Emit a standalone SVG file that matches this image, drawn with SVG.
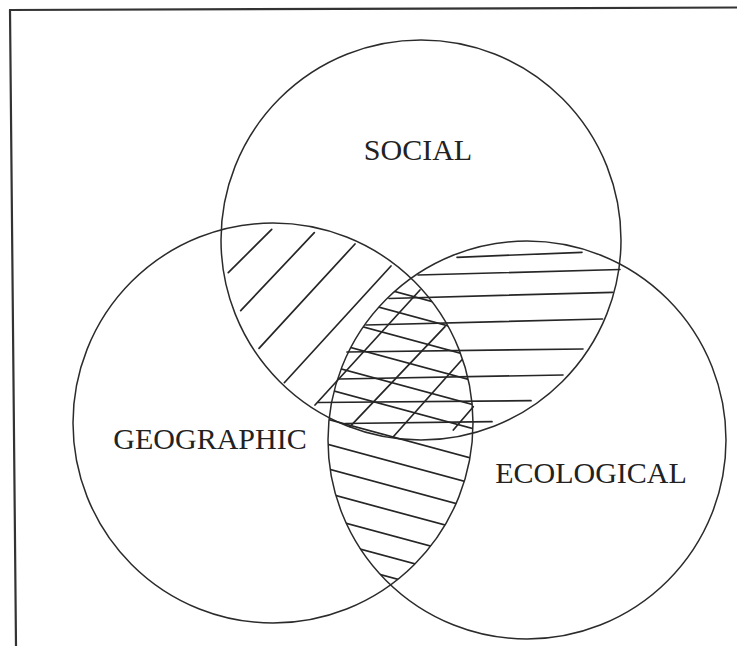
<svg xmlns="http://www.w3.org/2000/svg" width="739" height="646" viewBox="0 0 739 646">
  <style>
    .ring { fill: none; stroke: #2b2b2b; stroke-width: 1.5; }
    .hatch { fill: none; stroke: #262626; stroke-width: 1.7; stroke-linecap: round; }
    .frame { fill: none; stroke: #333; stroke-width: 2.2; }
    .label { font-family: "Liberation Serif", "Times New Roman", serif; font-size: 30px; fill: #222; text-anchor: middle; }
  </style>
  <defs>
    <clipPath id="clip-geo"><circle cx="273" cy="423" r="200"/></clipPath>
    <clipPath id="clip-eco"><circle cx="527" cy="440" r="199"/></clipPath>
  </defs>

  <rect width="739" height="646" fill="#fff"/>

  <!-- page frame: top and left rules -->
  <path class="frame" d="M9 10 L737 7.5 M10 10 L16 646"/>

  <g id="social">
    <circle class="ring" cx="421" cy="240" r="200"/>
    <text class="label" x="418" y="160">SOCIAL</text>
  </g>
  <g id="geographic">
    <circle class="ring" cx="273" cy="423" r="200"/>
    <text class="label" x="210" y="449">GEOGRAPHIC</text>
  </g>
  <g id="ecological">
    <circle class="ring" cx="527" cy="440" r="199"/>
    <text class="label" x="591" y="483">ECOLOGICAL</text>
  </g>

  <g id="connectors">
    <!-- social / geographic overlap: rising diagonals -->
    <g id="hatch-social-geo" class="hatch">
      <line x1="228.3" y1="272.7" x2="271.7" y2="229.3"/>
      <line x1="240.7" y1="310.7" x2="314.3" y2="232.7"/>
      <line x1="259" y1="348.3" x2="355" y2="244"/>
      <line x1="284.3" y1="382.7" x2="391" y2="266"/>
      <line x1="315" y1="405" x2="420" y2="290"/>
      <line x1="350" y1="426.7" x2="445" y2="326.7"/>
      <line x1="393.3" y1="436.7" x2="461.7" y2="360"/>
      <line x1="453.3" y1="430" x2="473.3" y2="406.7"/>
    </g>
    <!-- social / ecological overlap: near-horizontal rules -->
    <g id="hatch-social-eco" class="hatch">
      <line x1="457" y1="257.3" x2="582" y2="252.3"/>
      <line x1="418" y1="275" x2="620" y2="269.5"/>
      <line x1="389" y1="298.5" x2="612.5" y2="292.3"/>
      <line x1="366" y1="325" x2="602.5" y2="319"/>
      <line x1="347" y1="352" x2="583" y2="349"/>
      <line x1="339" y1="379" x2="563" y2="375"/>
      <line x1="318" y1="402.5" x2="531" y2="400.7"/>
      <line x1="345" y1="423.5" x2="492" y2="421.7"/>
    </g>
    <!-- geographic / ecological overlap: falling diagonals -->
    <g clip-path="url(#clip-geo)">
      <g clip-path="url(#clip-eco)">
        <g id="hatch-geo-eco" class="hatch">
          <line x1="300" y1="265.9" x2="500" y2="319.9"/>
          <line x1="300" y1="285.9" x2="500" y2="339.9"/>
          <line x1="300" y1="309.9" x2="500" y2="363.9"/>
          <line x1="300" y1="333.9" x2="500" y2="387.9"/>
          <line x1="300" y1="357.9" x2="500" y2="411.9"/>
          <line x1="300" y1="381.9" x2="500" y2="435.9"/>
          <line x1="300" y1="411.9" x2="500" y2="465.9"/>
          <line x1="300" y1="436.9" x2="500" y2="490.9"/>
          <line x1="300" y1="461.4" x2="500" y2="515.4"/>
          <line x1="300" y1="485.9" x2="500" y2="539.9"/>
          <line x1="300" y1="510.9" x2="500" y2="564.9"/>
          <line x1="300" y1="532.9" x2="500" y2="586.9"/>
          <line x1="300" y1="552.9" x2="500" y2="606.9"/>
        </g>
      </g>
    </g>
  </g>
</svg>
